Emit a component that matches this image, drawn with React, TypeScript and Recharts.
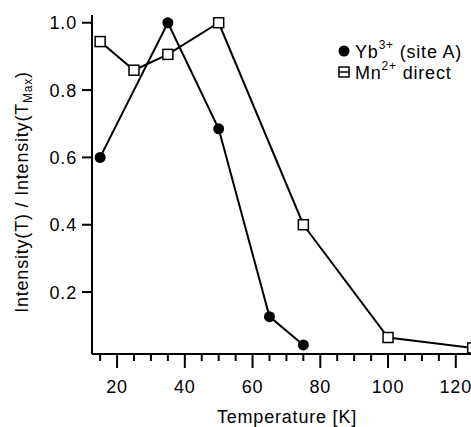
import React from 'react';
import { LineChart, Line, XAxis, YAxis } from 'recharts';

const ybTemps = [15, 35, 50, 65, 75];
const ybValues = [0.6, 1.0, 0.685, 0.127, 0.043];
const mnTemps = [15, 25, 35, 50, 75, 100, 125];
const mnValues = [0.944, 0.859, 0.906, 1.0, 0.4, 0.065, 0.034];
const xTicks = [15, 20, 25, 30, 35, 40, 45, 50, 55, 60, 65, 70, 75, 80, 85, 90, 95, 100, 105, 110, 115, 120, 125];
const yTicks = [0.2, 0.4, 0.6, 0.8, 1.0];
const xDomain: [number, number] = [12.6, 127.15];
const yDomain: [number, number] = [0.016, 1.023];

const ybData = ybTemps.map((t, i) => ({ t, v: ybValues[i] }));
const mnData = mnTemps.map((t, i) => ({ t, v: mnValues[i] }));

const FONT = '"Liberation Sans", Arial, Helvetica, sans-serif';
const FS = 18;
const LS = 0.8;

const XTick = (props: any) => {
  const { x, y, payload } = props;
  const major = payload.value % 20 === 0;
  return (
    <g>
      <line x1={x} x2={x} y1={y} y2={y + (major ? 14 : 7)} stroke="#000" strokeWidth={2} />
      {major && (
        <text x={x} y={y + 39} textAnchor="middle" fontFamily={FONT} fontSize={FS} letterSpacing={LS} fill="#000">
          {payload.value}
        </text>
      )}
    </g>
  );
};

const YTick = (props: any) => {
  const { x, y, payload } = props;
  return (
    <g>
      <line x1={x - 10} x2={x} y1={y} y2={y} stroke="#000" strokeWidth={2} />
      <text x={x - 15} y={y + 6.5} textAnchor="end" fontFamily={FONT} fontSize={FS} letterSpacing={LS} fill="#000">
        {payload.value.toFixed(1)}
      </text>
    </g>
  );
};

const CircleDot = (props: any) => {
  const { cx, cy } = props;
  return <circle cx={cx} cy={cy} r={5.5} fill="#000" />;
};

const SquareDot = (props: any) => {
  const { cx, cy } = props;
  return <rect x={cx - 5} y={cy - 5} width={10} height={10} fill="#fff" stroke="#000" strokeWidth={1.5} />;
};

const XLabel = (props: any) => (
  <text x={287} y={423} textAnchor="middle" fontFamily={FONT} fontSize={FS} letterSpacing={LS} fill="#000">
    Temperature [K]
  </text>
);

const YLabel = (props: any) => (
  <text
    x={28}
    y={192}
    transform="rotate(-90, 28, 192)"
    textAnchor="middle"
    fontFamily={FONT}
    fontSize={FS}
    letterSpacing={LS}
    fill="#000"
  >
    Intensity(T) / Intensity(T
    <tspan fontSize={12} dy={4}>Max</tspan>
    <tspan dy={-4}>)</tspan>
  </text>
);

export default function App() {
  return (
    <div style={{ position: 'absolute', left: 0, top: 0, width: 471, height: 427, overflow: 'hidden', background: '#fff' }}>
      <LineChart
        width={490}
        height={427}
        margin={{ top: 15, right: 10, bottom: 0, left: 0 }}
      >
        <XAxis
          xAxisId="x"
          dataKey="t"
          type="number"
          domain={xDomain}
          ticks={xTicks}
          interval={0}
          allowDataOverflow
          height={73}
          tickSize={0}
          tickMargin={0}
          tick={<XTick />}
          axisLine={{ stroke: '#000', strokeWidth: 2 }}
          label={<XLabel />}
        />
        <XAxis
          xAxisId="top"
          orientation="top"
          type="number"
          domain={xDomain}
          allowDataOverflow
          height={0}
          tick={false}
          tickLine={false}
          axisLine={{ stroke: '#000', strokeWidth: 2 }}
        />
        <YAxis
          type="number"
          domain={yDomain}
          ticks={yTicks}
          interval={0}
          allowDataOverflow
          width={92}
          tickSize={0}
          tickMargin={0}
          tick={<YTick />}
          axisLine={{ stroke: '#000', strokeWidth: 2 }}
          label={<YLabel />}
        />
        <Line
          xAxisId="x"
          data={ybData}
          dataKey="v"
          stroke="#000"
          strokeWidth={2}
          dot={<CircleDot />}
          isAnimationActive={false}
        />
        <Line
          xAxisId="x"
          data={mnData}
          dataKey="v"
          stroke="#000"
          strokeWidth={2}
          dot={<SquareDot />}
          isAnimationActive={false}
        />
      </LineChart>
      <svg width={471} height={427} style={{ position: 'absolute', left: 0, top: 0, pointerEvents: 'none' }}>
        <circle cx={344} cy={51} r={5.5} fill="#000" />
        <text x={355} y={58} fontFamily={FONT} fontSize={FS} letterSpacing={LS} fill="#000">
          Yb<tspan fontSize={12} dy={-9}>3+</tspan>
          <tspan dy={9}> (site A)</tspan>
        </text>
        <rect x={339} y={67} width={10} height={10} fill="#fff" stroke="#000" strokeWidth={1.5} />
        <line x1={339} x2={349} y1={72} y2={72} stroke="#000" strokeWidth={1.5} />
        <text x={355} y={79} fontFamily={FONT} fontSize={FS} letterSpacing={LS} fill="#000">
          Mn<tspan fontSize={12} dy={-9}>2+</tspan>
          <tspan dy={9}> direct</tspan>
        </text>
      </svg>
    </div>
  );
}
